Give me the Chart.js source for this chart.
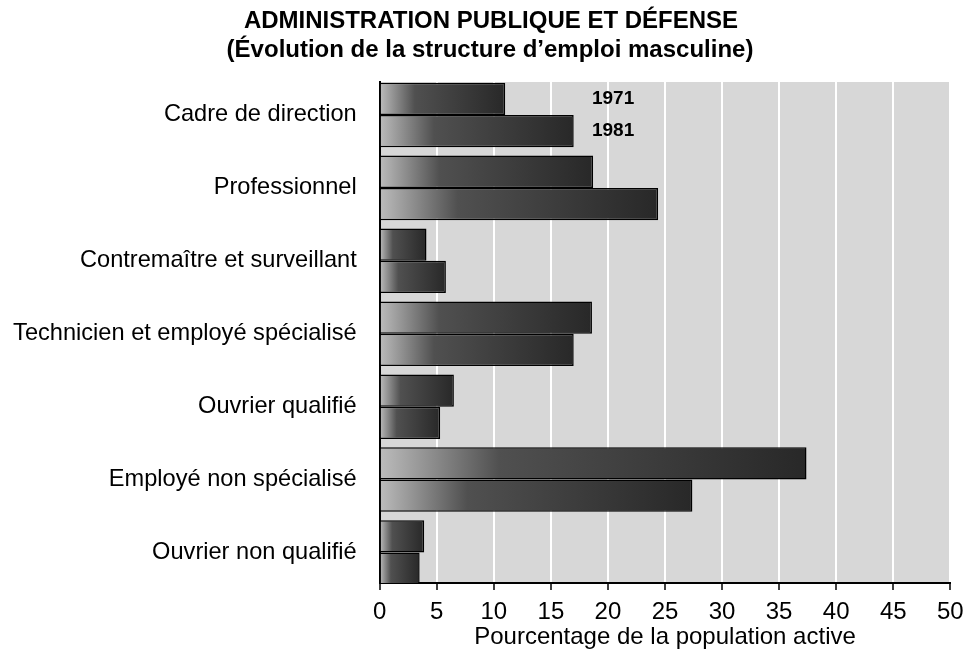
<!DOCTYPE html>
<html>
<head>
<meta charset="utf-8">
<script src="https://cdn.jsdelivr.net/npm/chart.js@4.4.1/dist/chart.umd.min.js"></script>
<style>
  html, body { margin: 0; padding: 0; background: #ffffff; }
  #wrap { width: 967px; height: 653px; position: relative; }
</style>
</head>
<body>
<div id="wrap"><canvas id="c" width="967" height="653"></canvas></div>
<script>
// ---- Data ----
const categories = [
  'Cadre de direction',
  'Professionnel',
  'Contremaître et surveillant',
  'Technicien et employé spécialisé',
  'Ouvrier qualifié',
  'Employé non spécialisé',
  'Ouvrier non qualifié'
];
const seriesNames = ['1971', '1981'];
const values1971 = [11.0, 18.7, 4.1, 18.6, 6.5, 37.4, 3.9];
const values1981 = [17.0, 24.4, 5.8, 17.0, 5.3, 27.4, 3.5];
const xTickValues = [0, 5, 10, 15, 20, 25, 30, 35, 40, 45, 50];
const titleLines = ['ADMINISTRATION PUBLIQUE ET DÉFENSE', '(Évolution de la structure d’emploi masculine)'];
const xAxisTitle = 'Pourcentage de la population active';
const seriesLabelAt = 18.6; // x value where the "1971"/"1981" labels start

const FONT = 'Liberation Sans, Arial, Helvetica, sans-serif';

function barGradient(ctx) {
  const chart = ctx.chart;
  const area = chart.chartArea;
  if (!area || !ctx.raw) return '#444444';
  const xs = chart.scales.x;
  const x0 = xs.getPixelForValue(0);
  const x1 = Math.max(xs.getPixelForValue(ctx.raw.x), x0 + 1);
  const g = chart.ctx.createLinearGradient(x0, 0, x1, 0);
  g.addColorStop(0, '#bcbcbc');
  g.addColorStop(0.28, '#505050');
  g.addColorStop(1, '#282828');
  return g;
}

const plotBg = {
  id: 'plotBg',
  beforeDraw(chart) {
    const a = chart.chartArea;
    const c = chart.ctx;
    c.save();
    c.fillStyle = '#d7d7d7';
    c.fillRect(a.left, a.top, a.right - a.left, a.bottom - a.top);
    c.restore();
  }
};

const titleBlock = {
  id: 'titleBlock',
  afterDraw(chart) {
    const c = chart.ctx;
    c.save();
    c.fillStyle = '#000';
    c.font = 'bold 24px ' + FONT;
    c.textAlign = 'center';
    c.textBaseline = 'middle';
    c.fillText(titleLines[0], 491, 21);
    c.fillText(titleLines[1], 490, 50);
    c.restore();
  }
};

const seriesLabels = {
  id: 'seriesLabels',
  afterDatasetsDraw(chart) {
    const c = chart.ctx;
    const x = chart.scales.x.getPixelForValue(seriesLabelAt);
    c.save();
    c.fillStyle = '#000';
    c.font = 'bold 19px ' + FONT;
    c.textAlign = 'left';
    c.textBaseline = 'middle';
    seriesNames.forEach((name, di) => {
      const bar = chart.getDatasetMeta(di).data[0];
      c.fillText(name, x, bar.y);
    });
    c.restore();
  }
};

const ds = (name, vals) => ({
  label: name,
  data: vals.map((v, i) => ({ x: v, y: i })),
  backgroundColor: barGradient,
  borderColor: '#000000',
  borderWidth: 1.5,
  barPercentage: 1.0,
  categoryPercentage: 0.885
});

new Chart(document.getElementById('c'), {
  type: 'bar',
  data: {
    datasets: [ds(seriesNames[0], values1971), ds(seriesNames[1], values1981)]
  },
  plugins: [plotBg, seriesLabels, titleBlock],
  options: {
    responsive: false,
    animation: false,
    indexAxis: 'y',
    layout: { padding: { left: 6, right: 16.7, top: 82, bottom: 0 } },
    plugins: {
      legend: { display: false },
      tooltip: { enabled: false },
      title: { display: false }
    },
    scales: {
      x: {
        type: 'linear',
        min: 0,
        max: 50,
        afterBuildTicks(scale) { scale.ticks = xTickValues.map(v => ({ value: v })); },
        afterFit(scale) { scale.height = 70; scale.paddingLeft = 0; scale.paddingRight = 0; },
        grid: {
          color: '#ffffff',
          lineWidth: 2,
          drawTicks: true,
          tickLength: 7,
          tickColor: '#000000',
          tickWidth: 1.5
        },
        border: { display: true, color: '#000000', width: 2 },
        ticks: {
          color: '#000',
          font: { family: FONT, size: 24 },
          padding: 8,
          maxRotation: 0
        },
        title: {
          display: true,
          text: xAxisTitle,
          color: '#000',
          font: { family: FONT, size: 24, lineHeight: 1.2 },
          padding: { top: 0, bottom: 1.5 }
        }
      },
      y: {
        type: 'linear',
        reverse: true,
        offset: false,
        min: -0.452,
        max: 6.418,
        afterBuildTicks(scale) { scale.ticks = categories.map((_, i) => ({ value: i })); },
        afterFit(scale) { scale.width = 373.7; scale.paddingTop = 0; scale.paddingBottom = 0; },
        grid: { display: false, offset: false },
        border: { display: true, color: '#000000', width: 2 },
        ticks: {
          color: '#000',
          font: { family: FONT, size: 23.6 },
          padding: 15,
          callback: (v) => categories[v] !== undefined ? categories[v] : ''
        }
      }
    }
  }
});
</script>
</body>
</html>
